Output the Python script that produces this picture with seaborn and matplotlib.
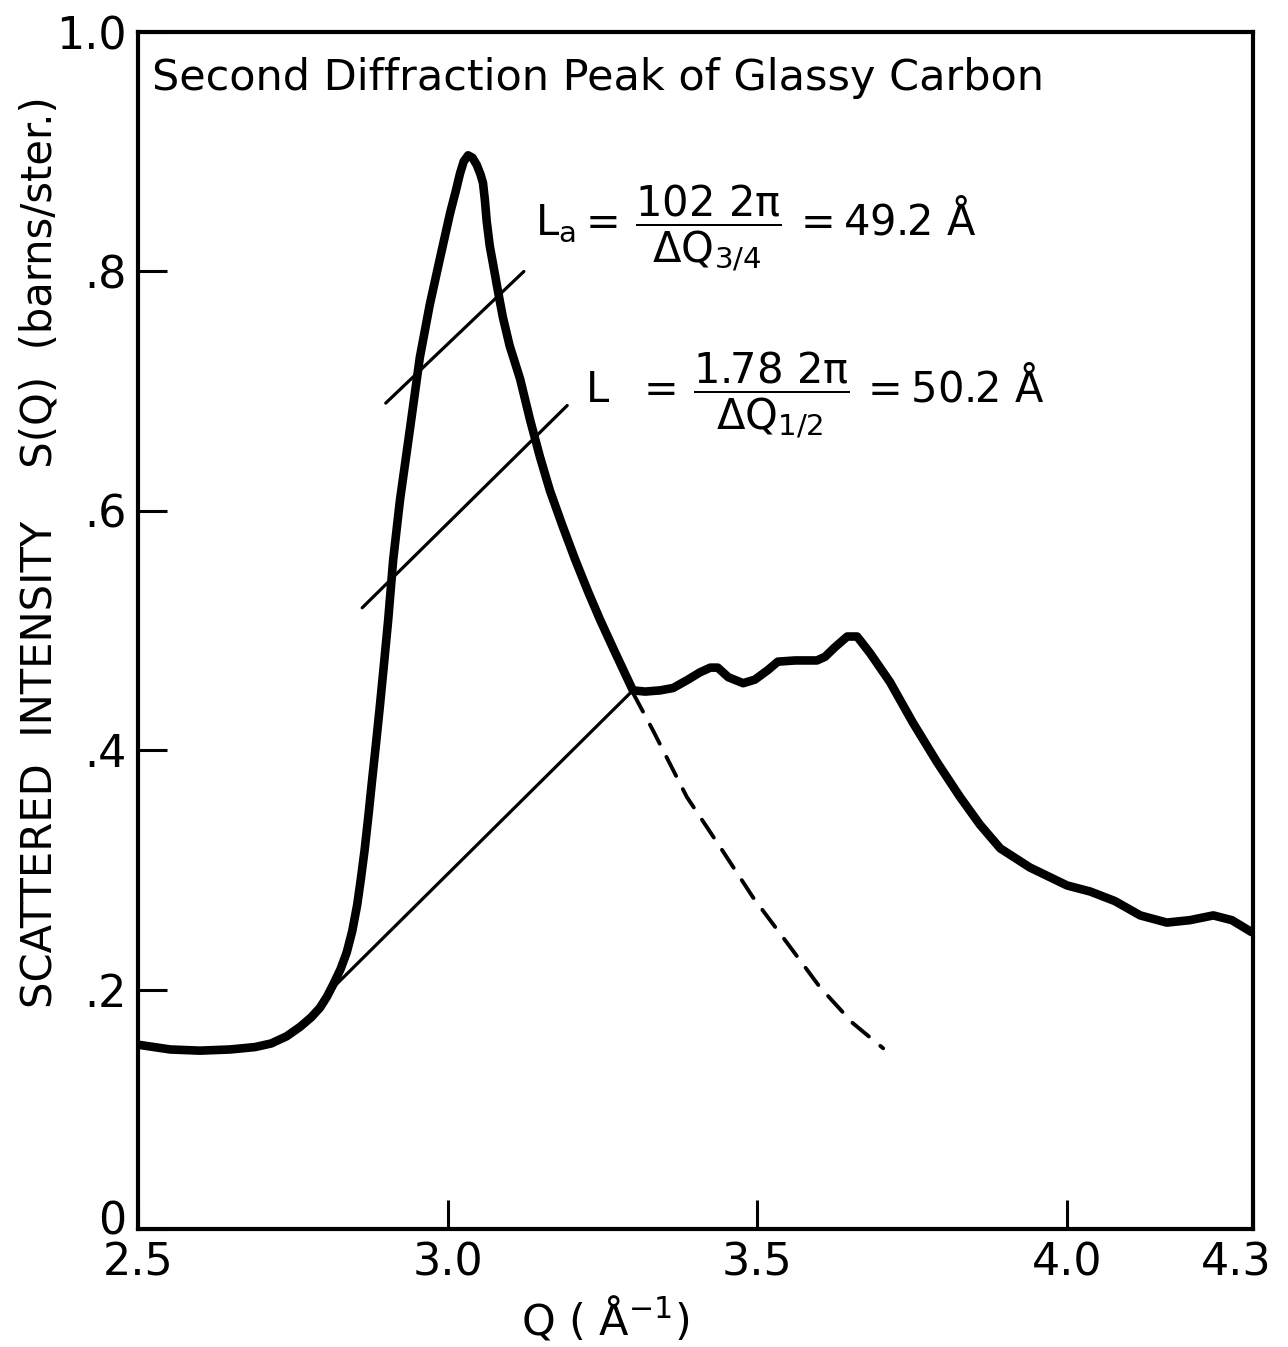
import matplotlib
matplotlib.use("Agg")
import matplotlib.pyplot as plt
import matplotlib.transforms as mtransforms
import seaborn as sns

# ---------------- data ----------------
q_main = [2.500, 2.552, 2.600, 2.649, 2.689, 2.715, 2.740, 2.762, 2.780, 2.794,
          2.805, 2.815, 2.827, 2.837, 2.846, 2.854, 2.860, 2.866, 2.872, 2.878,
          2.884, 2.890, 2.897, 2.904, 2.912, 2.923, 2.939, 2.955, 2.971, 2.988,
          3.004, 3.013, 3.020, 3.026, 3.033, 3.040, 3.047, 3.053, 3.057, 3.060,
          3.063, 3.068, 3.073, 3.081, 3.089, 3.100, 3.117, 3.133, 3.149, 3.165,
          3.185, 3.206, 3.227, 3.246, 3.270, 3.299, 3.319, 3.343, 3.364, 3.388,
          3.407, 3.424, 3.436, 3.453, 3.477, 3.496, 3.517, 3.533, 3.561, 3.596,
          3.609, 3.625, 3.645, 3.661, 3.682, 3.714, 3.751, 3.790, 3.827, 3.859,
          3.892, 3.940, 4.000, 4.037, 4.077, 4.118, 4.161, 4.198, 4.236, 4.266,
          4.298]
s_main = [0.154, 0.150, 0.149, 0.150, 0.152, 0.155, 0.161, 0.169, 0.177, 0.185,
          0.194, 0.204, 0.217, 0.231, 0.249, 0.271, 0.293, 0.317, 0.345, 0.375,
          0.404, 0.434, 0.471, 0.509, 0.559, 0.609, 0.668, 0.728, 0.772, 0.812,
          0.849, 0.867, 0.882, 0.892, 0.897, 0.895, 0.889, 0.881, 0.874, 0.860,
          0.842, 0.821, 0.807, 0.784, 0.762, 0.738, 0.710, 0.676, 0.645, 0.617,
          0.588, 0.559, 0.532, 0.509, 0.482, 0.450, 0.449, 0.450, 0.452, 0.459,
          0.465, 0.469, 0.469, 0.461, 0.456, 0.459, 0.467, 0.474, 0.475, 0.475,
          0.478, 0.486, 0.495, 0.495, 0.481, 0.457, 0.423, 0.390, 0.361, 0.338,
          0.318, 0.302, 0.287, 0.282, 0.274, 0.262, 0.256, 0.258, 0.262, 0.258,
          0.248]

# dashed extrapolation of the peak
q_dash = [3.299, 3.331, 3.386, 3.440, 3.493, 3.548, 3.601, 3.654, 3.703]
s_dash = [0.448, 0.417, 0.361, 0.319, 0.277, 0.239, 0.202, 0.172, 0.151]

# construction lines
q_base = [2.804, 3.299]
s_base = [0.196, 0.450]
q_w34 = [2.900, 3.123]
s_w34 = [0.690, 0.800]
q_w12 = [2.862, 3.193]
s_w12 = [0.519, 0.688]

x_ticks = [2.5, 3.0, 3.5, 4.0, 4.3]
x_ticklabels = ["2.5", "3.0", "3.5", "4.0", "4.3"]
y_ticks = [0.0, 0.2, 0.4, 0.6, 0.8, 1.0]
y_ticklabels = ["0", ".2", ".4", ".6", ".8", "1.0"]

title = "Second Diffraction Peak of Glassy Carbon"
ylabel = "SCATTERED  INTENSITY    S(Q)  (barns/ster.)"

# ---------------- style ----------------
sns.set_theme(style="ticks")
plt.rcParams["font.family"] = ["DejaVu Sans"]
plt.rcParams["mathtext.fontset"] = "dejavusans"

fig = plt.figure(figsize=(12.88, 13.47), dpi=100)
ax = fig.add_axes([0.1071, 0.0876, 0.8657, 0.8886])

sns.lineplot(x=q_main, y=s_main, ax=ax, color="black", lw=6.2, sort=False)
ax.lines[-1].set_solid_joinstyle("round")
ax.lines[-1].set_solid_capstyle("round")
sns.lineplot(x=q_dash, y=s_dash, ax=ax, color="black", lw=2.8, sort=False)
ax.lines[-1].set_dashes([5.5, 3.8])
ax.lines[-1].set_dash_capstyle("round")
for qq, ss in [(q_base, s_base), (q_w34, s_w34), (q_w12, s_w12)]:
    sns.lineplot(x=qq, y=ss, ax=ax, color="black", lw=2.3, sort=False)

ax.set_xlim(2.5, 4.3)
ax.set_ylim(0, 1.0)
ax.set_xticks(x_ticks)
ax.set_xticklabels(x_ticklabels)
ax.set_yticks(y_ticks)
ax.set_yticklabels(y_ticklabels)
ax.tick_params(direction="in", length=21, width=2.2, labelsize=32, pad=8,
               colors="black")
ax.tick_params(axis="x", pad=9)
for sp in ax.spines.values():
    sp.set_visible(True)
    sp.set_linewidth(3)
    sp.set_color("black")
ax.set_xlabel("")
ax.set_ylabel("")

# small nudges of the corner labels, as in the reference
ylabs = ax.get_yticklabels()
ylabs[0].set_transform(ylabs[0].get_transform() +
                       mtransforms.ScaledTranslation(0, 8 / 72, fig.dpi_scale_trans))
xlabs = ax.get_xticklabels()
xlabs[-1].set_transform(xlabs[-1].get_transform() +
                        mtransforms.ScaledTranslation(-12 / 72, 0, fig.dpi_scale_trans))

ax.text(0.0126, 0.9516, title, transform=ax.transAxes, fontsize=31,
        va="baseline", ha="left", color="black")

ax.text(3.141, 0.836,
        r"$\mathregular{L_a=\,\dfrac{102\ 2\pi}{\Delta Q_{3/4}}\,= 49.2\ \AA}$",
        fontsize=30, ha="left", va="center", color="black")
ax.text(3.222, 0.696,
        r"$\mathregular{L\ \ =\,\dfrac{1.78\ 2\pi}{\Delta Q_{1/2}}\,= 50.2\ \AA}$",
        fontsize=30, ha="left", va="center", color="black")

fig.text(40 / 1288, 1 - 552 / 1347, ylabel, rotation=90, fontsize=30,
         ha="center", va="center", color="black")
fig.text(605 / 1288, 12 / 1347, r"Q ( $\mathregular{\AA^{-1}}$)", fontsize=31,
         ha="center", va="baseline", color="black")

fig.savefig("out.png", dpi=100)
